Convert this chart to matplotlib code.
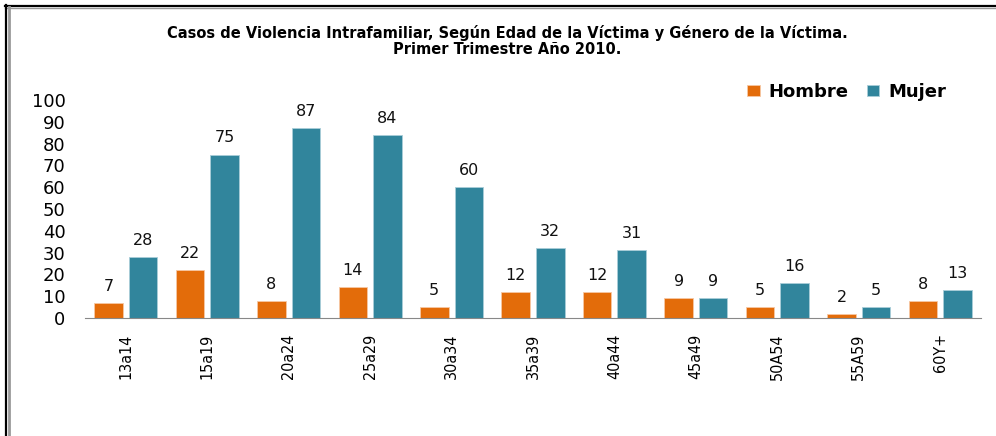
import matplotlib.pyplot as plt
import numpy as np
from matplotlib.lines import Line2D

grupos = ["13a14", "15a19", "20a24", "25a29", "30a34", "35a39",
          "40a44", "45a49", "50A54", "55A59", "60Y+"]
hombre = [7, 22, 8, 14, 5, 12, 12, 9, 5, 2, 8]
mujer = [28, 75, 87, 84, 60, 32, 31, 9, 16, 5, 13]

c_hombre = "#E36C0A"
c_mujer = "#31859C"

fig = plt.figure(figsize=(9.96, 4.36), dpi=100)
ax = fig.add_axes([0.0853, 0.2706, 0.8997, 0.5])

x = np.arange(len(grupos))
w = 0.35
b1 = ax.bar(x - 0.212, hombre, w, color=c_hombre, edgecolor="#F6C8A4", linewidth=0.6)
b2 = ax.bar(x + 0.212, mujer, w, color=c_mujer, edgecolor="#A9CDD8", linewidth=0.6)

for bars, vals in ((b1, hombre), (b2, mujer)):
    for b, v in zip(bars, vals):
        ax.annotate(str(v), (b.get_x() + b.get_width() / 2, v),
                    xytext=(0, 6.5), textcoords="offset points",
                    ha="center", va="bottom", fontsize=11.5,
                    family="DejaVu Sans", color="#111111")

ax.set_xlim(-0.5, len(grupos) - 0.5)
ax.set_ylim(0, 100)
ax.set_yticks(range(0, 101, 10))
ax.set_xticks(x)
ax.set_xticklabels(grupos, rotation=90, fontsize=11.5, fontstretch="condensed")
ax.tick_params(axis="both", length=0)
ax.tick_params(axis="y", labelsize=13, pad=14)
ax.tick_params(axis="x", pad=11)
for s in ["top", "right", "left"]:
    ax.spines[s].set_visible(False)
ax.spines["bottom"].set_color("#888888")

fig.text(0.509, 0.906, "Casos de Violencia Intrafamiliar, Según Edad de la Víctima y Género de la Víctima.\nPrimer Trimestre Año 2010.",
         ha="center", va="center", fontsize=10.5, fontweight="bold", linespacing=1.15,
         family="DejaVu Sans")

leg = fig.legend([b1, b2], ["Hombre", "Mujer"], loc="center",
                 bbox_to_anchor=(0.85, 0.789), ncol=2, frameon=False,
                 handlelength=0.7, handleheight=0.6, handletextpad=0.5,
                 columnspacing=1.0, prop={"size": 13, "weight": "bold"})

# marco del grafico
fig.add_artist(Line2D([5, 996], [430.5, 430.5], transform=None, color="black", lw=1.6))
fig.add_artist(Line2D([5, 996], [428.5, 428.5], transform=None, color="#999999", lw=1.0))
fig.add_artist(Line2D([5.5, 5.5], [0, 431], transform=None, color="black", lw=1.6))
fig.add_artist(Line2D([8.5, 8.5], [0, 429], transform=None, color="#999999", lw=2.0))

fig.savefig("out.png", dpi=100)
